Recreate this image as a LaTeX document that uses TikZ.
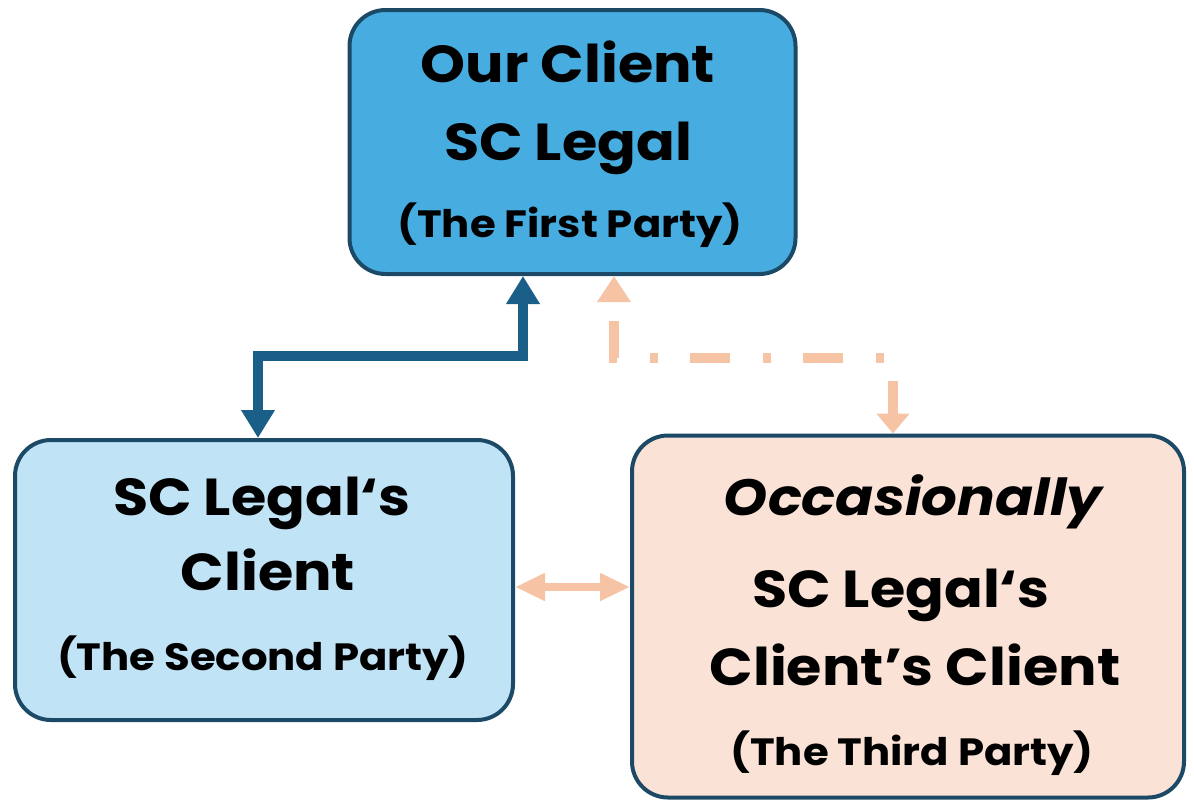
\documentclass[tikz,border=0pt]{standalone}
\usepackage{fontspec}
\setmainfont{Poppins}[FakeStretch=1.1]
\usetikzlibrary{arrows.meta}
\definecolor{topblue}{HTML}{47ADE1}
\definecolor{leftblue}{HTML}{C0E3F5}
\definecolor{peach}{HTML}{FAE2D6}
\definecolor{boxedge}{HTML}{1C4A66}
\definecolor{linkblue}{HTML}{1A5F88}
\definecolor{linkpeach}{HTML}{F6C3A4}
\tikzset{
  partybox/.style={draw=boxedge,line width=2pt,rounded corners=18pt,inner sep=0pt},
  bigtxt/.style={font=\fontsize{26}{30}\selectfont\bfseries,anchor=base},
  smalltxt/.style={font=\fontsize{19}{22}\selectfont\bfseries,anchor=base},
}
\begin{document}
\begin{tikzpicture}[x=0.5pt,y=-0.5pt]
        \useasboundingbox (0,0) rectangle (1194,804);
        % the three parties
        \node[partybox,fill=topblue,minimum width=223pt,minimum height=132pt](topbox)at(572.5,142){};
        \node[partybox,fill=leftblue,minimum width=249pt,minimum height=140pt](leftbox)at(264,580){};
        \node[partybox,fill=peach,minimum width=276pt,minimum height=181pt](rightbox)at(908,616.5){};

        \node[bigtxt](ourclient)at(568,82){Our Client};
        \node[bigtxt](sclegal)at(568,160){SC Legal};
        \node[smalltxt](firstparty)at(570,237){(The First Party)};

        \node[bigtxt](legalsa)at(262,515){SC Legal‘s};
        \node[bigtxt](client)at(268,590){Client};
        \node[smalltxt](secondparty)at(263,670){(The Second Party)};

        \node[bigtxt,font=\fontsize{25.5}{30}\selectfont\bfseries\itshape](occasionally)at(913,515){Occasionally};
        \node[bigtxt](legalsb)at(901,607){SC Legal‘s};
        \node[bigtxt](clientsclient)at(915,685){Client’s Client};
        \node[smalltxt](thirdparty)at(912,765){(The Third Party)};

        % links
        \draw[{Triangle[length=14pt,width=16pt]}-{Triangle[length=14pt,width=16pt]},line width=5pt,linkblue](topbox.south -| 523,0)|-(258,356)--(leftbox.north -| 258,0);
        \draw[{Triangle[length=13pt,width=16pt]}-{Triangle[length=10pt,width=16pt]},line width=5pt,linkpeach,dash pattern=on 20pt off 16.5pt on 4pt off 16pt,dash phase=46pt](topbox.south -| 614,0)|-(893,358)--(rightbox.north -| 893,0);
        \draw[{Triangle[length=15pt,width=13pt]}-{Triangle[length=15pt,width=13pt]},line width=4pt,linkpeach](leftbox.east |- 0,587)--(rightbox.west |- 0,587);
    \end{tikzpicture}
\end{document}
